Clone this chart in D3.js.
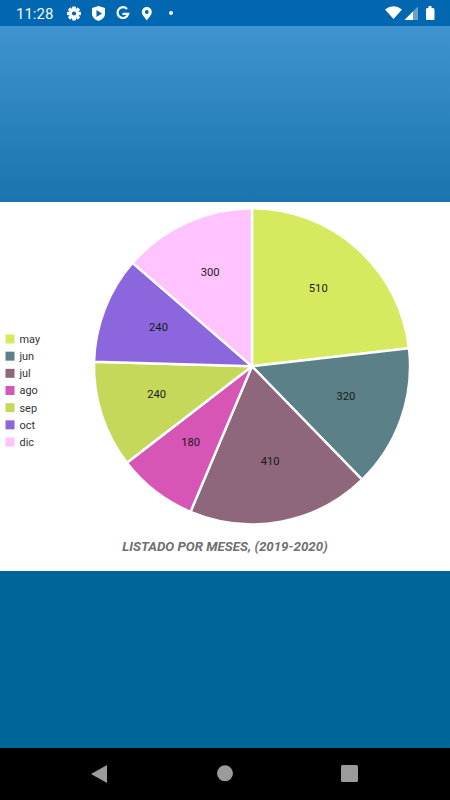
<!DOCTYPE html>
<html><head><meta charset="utf-8">
<style>html,body{margin:0;padding:0;background:#000;overflow:hidden}svg{display:block}</style>
<script src="https://cdnjs.cloudflare.com/ajax/libs/d3/7.8.5/d3.min.js"></script>
</head><body><div id="c"></div>
<script>
const months = ["may","jun","jul","ago","sep","oct","dic"];
const totals = [510,320,410,180,240,240,300];
const sliceColors = ["#D6E95F","#5B8087","#8E677D","#D655B5","#C6D85A","#8C66DC","#FFC4FF"];
const chartTitle = "LISTADO POR MESES, (2019-2020)";
const clock = "11:28";

const svg = d3.select("#c").append("svg").attr("width",450).attr("height",800);
const defs = svg.append("defs");
const g = defs.append("linearGradient").attr("id","top").attr("x1",0).attr("x2",0).attr("y1",0).attr("y2",1);
g.append("stop").attr("offset",0).attr("stop-color","#3F94D0");
g.append("stop").attr("offset",1).attr("stop-color","#1A74AD");

// background bands
svg.append("rect").attr("width",450).attr("height",26).attr("fill","#0067B0");
svg.append("rect").attr("y",26).attr("width",450).attr("height",176).attr("fill","url(#top)");
svg.append("rect").attr("y",202).attr("width",450).attr("height",369).attr("fill","#fff");
svg.append("rect").attr("y",571).attr("width",450).attr("height",177).attr("fill","#006699");
svg.append("rect").attr("y",748).attr("width",450).attr("height",52).attr("fill","#000");

// pie
const color = d3.scaleOrdinal(months, sliceColors);
const pie = d3.pie().value(d=>totals[months.indexOf(d)]).sort(null);
const R = 158;
const arc = d3.arc().innerRadius(0).outerRadius(R);
const labelArc = d3.arc().innerRadius(100).outerRadius(100);
const cg = svg.append("g").attr("transform","translate(252,366.3)");
cg.selectAll("path").data(pie(months)).join("path")
  .attr("d",arc).attr("fill",d=>color(d.data))
  .attr("stroke","#fff").attr("stroke-width",2.4).attr("stroke-linejoin","miter");
const lbl = svg.append("g").attr("transform","translate(251.7,362.8)");
lbl.selectAll("text").data(pie(months)).join("text")
  .attr("transform",d=>`translate(${labelArc.centroid(d)})`)
  .attr("text-anchor","middle").attr("dy","0.36em")
  .attr("font-family","Roboto").attr("font-size",11.2).attr("fill","#1a1a1a")
  .text(d=>totals[months.indexOf(d.data)]);

// legend
const ly = d3.scalePoint().domain(months).range([339,442]);
const lg = svg.append("g").selectAll("g").data(months).join("g")
  .attr("transform",d=>`translate(0,${ly(d)})`);
lg.append("rect").attr("x",5.5).attr("y",-4.5).attr("width",9).attr("height",9).attr("fill",d=>color(d));
lg.append("text").attr("x",19.5).attr("dy","0.36em").attr("font-family","Roboto")
  .attr("font-size",10.9).attr("fill","#333").text(d=>d);

// title
svg.append("text").attr("x",225).attr("y",551).attr("text-anchor","middle")
  .attr("font-family","Roboto").attr("font-size",13.3).attr("font-weight",700)
  .attr("font-style","italic").attr("fill","#707070").text(chartTitle);

// status bar
const sb = svg.append("g").attr("fill","#fff");
sb.append("text").attr("x",16).attr("y",19).attr("font-family","Roboto").attr("font-size",15)
  .attr("font-weight",400).attr("fill","#F2F7FB").text(clock);
// gear
const gear = sb.append("g").attr("transform","translate(74,13.5)");
d3.range(8).forEach(i=>gear.append("rect").attr("x",-1.6).attr("y",-6.8).attr("width",3.2).attr("height",13.6)
  .attr("transform",`rotate(${i*45})`));
gear.append("circle").attr("r",5);
gear.append("circle").attr("r",2.1).attr("fill","#0067B0");
// shield
sb.append("path").attr("d","M92 8 L98.5 6 L105 8 V14 Q105 18.5 98.5 21 Q92 18.5 92 14 Z");
sb.append("path").attr("d","M96.5 10 L102 13.5 L96.5 17 Z").attr("fill","#0067B0");
// G
sb.append("path").attr("d","M127 9 A5.4 5.4 0 1 0 128.2 13.8 H122.5").attr("fill","none")
  .attr("stroke","#fff").attr("stroke-width",2.2);
// pin
sb.append("path").attr("d","M146.8 7 A5 5 0 0 1 151.8 12 C151.8 15 148.3 18 146.8 20.5 C145.3 18 141.8 15 141.8 12 A5 5 0 0 1 146.8 7 Z");
sb.append("circle").attr("cx",146.8).attr("cy",12).attr("r",1.9).attr("fill","#0067B0");
sb.append("circle").attr("cx",171).attr("cy",13).attr("r",2);
// wifi
sb.append("path").attr("d","M385 9.5 Q393.5 3 402 9.5 L393.5 19 Z");
// signal
sb.append("path").attr("d","M404.5 20 L418 6.5 V20 Z").attr("opacity",0.4);
sb.append("path").attr("d","M404.5 20 L413 11.5 V20 Z");
// battery
sb.append("path").attr("d","M427 8 H428.5 V6 H431.5 V8 H433 Q434.5 8 434.5 9.5 V19 Q434.5 20 433.5 20 H427 Q426 20 426 19 V9.5 Q426 8 427 8 Z");

// nav bar
const nav = svg.append("g").attr("fill","#9B9B9B");
nav.append("path").attr("d","M107 765 V783 L91 774 Z");
nav.append("circle").attr("cx",225).attr("cy",773.3).attr("r",8);
nav.append("rect").attr("x",341).attr("y",765).attr("width",17).attr("height",17).attr("rx",1.5);
</script></body></html>
